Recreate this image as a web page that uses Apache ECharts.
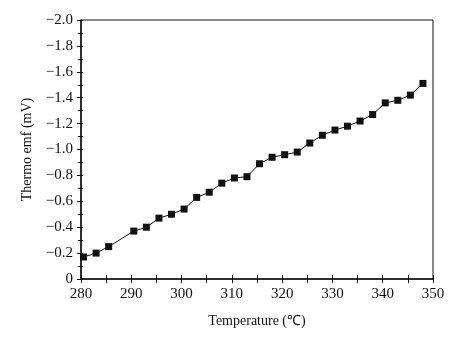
<!DOCTYPE html>
<html>
<head>
<meta charset="utf-8">
<script src="https://cdn.jsdelivr.net/npm/echarts@6/dist/echarts.min.js"></script>
<style>
  html, body { margin: 0; padding: 0; background: #fff; }
  #chart { width: 476px; height: 338px; }
</style>
</head>
<body>
<div id="chart"></div>
<script>
// Thermoelectric emf measured against temperature
const temperatures = [280.5, 283, 285.5, 290.5, 293, 295.5, 298, 300.5, 303, 305.5,
  308, 310.5, 313, 315.5, 318, 320.5, 323, 325.5, 328, 330.5,
  333, 335.5, 338, 340.5, 343, 345.5, 348];
const emfValues = [-0.17, -0.20, -0.25, -0.37, -0.40, -0.47, -0.50, -0.54, -0.63, -0.67,
  -0.74, -0.78, -0.79, -0.89, -0.94, -0.96, -0.98, -1.05, -1.11, -1.15,
  -1.18, -1.22, -1.27, -1.36, -1.38, -1.42, -1.51];
const xTitle = 'Temperature (℃)';
const yTitle = 'Thermo emf (mV)';

const FONT = '"Liberation Serif", "Times New Roman", serif';
const ink = '#111';

const points = temperatures.map((t, i) => [t, emfValues[i]]);

function yLabel(v) {
  if (Math.abs(v) < 1e-9) return '0';
  return '\u2212' + Math.abs(v).toFixed(1);
}

const xCommon = {
  type: 'value', min: 280, max: 350, interval: 10, position: 'bottom',
  splitLine: { show: false }
};
const yCommon = {
  type: 'value', min: -2, max: 0, interval: 0.2, inverse: true, position: 'left',
  splitLine: { show: false }
};

const chart = echarts.init(document.getElementById('chart'), null, { renderer: 'canvas' });
chart.setOption({
  backgroundColor: '#fff',
  animation: false,
  grid: {
    left: 81, right: 43, top: 20, bottom: 59,
    show: true, borderColor: ink, borderWidth: 1, backgroundColor: 'transparent'
  },
  xAxis: [
    Object.assign({}, xCommon, {
      name: xTitle, nameLocation: 'middle', nameGap: 35,
      nameTextStyle: { fontFamily: FONT, fontSize: 14, color: ink },
      axisLine: { show: true, lineStyle: { color: ink, width: 1.5 } },
      axisTick: { show: true, inside: false, length: 4, lineStyle: { color: ink } },
      minorTick: { show: true, splitNumber: 2, length: 4, lineStyle: { color: ink } },
      axisLabel: { fontFamily: FONT, fontSize: 15, color: ink, margin: 8 }
    }),
    Object.assign({}, xCommon, {
      axisLine: { show: false },
      axisTick: { show: true, inside: true, length: 4, lineStyle: { color: ink } },
      minorTick: { show: true, splitNumber: 2, length: 4, lineStyle: { color: ink } },
      axisLabel: { show: false }
    })
  ],
  yAxis: [
    Object.assign({}, yCommon, {
      name: yTitle, nameLocation: 'middle', nameGap: 47, nameRotate: 90,
      nameTextStyle: { fontFamily: FONT, fontSize: 14, color: ink },
      axisLine: { show: true, lineStyle: { color: ink, width: 1.5 } },
      axisTick: { show: true, inside: false, length: 4, lineStyle: { color: ink } },
      minorTick: { show: true, splitNumber: 2, length: 3, lineStyle: { color: ink } },
      axisLabel: { fontFamily: FONT, fontSize: 15, color: ink, margin: 8, formatter: yLabel }
    }),
    Object.assign({}, yCommon, {
      axisLine: { show: false },
      axisTick: { show: true, inside: true, length: 2, lineStyle: { color: ink } },
      minorTick: { show: true, splitNumber: 2, length: 2, lineStyle: { color: ink } },
      axisLabel: { show: false }
    })
  ],
  series: [{
    type: 'line',
    xAxisIndex: 0, yAxisIndex: 0,
    data: points,
    symbol: 'rect',
    symbolSize: 7,
    showSymbol: true,
    lineStyle: { color: ink, width: 1 },
    itemStyle: { color: ink },
    emphasis: { disabled: true }
  }]
});
</script>
</body>
</html>
